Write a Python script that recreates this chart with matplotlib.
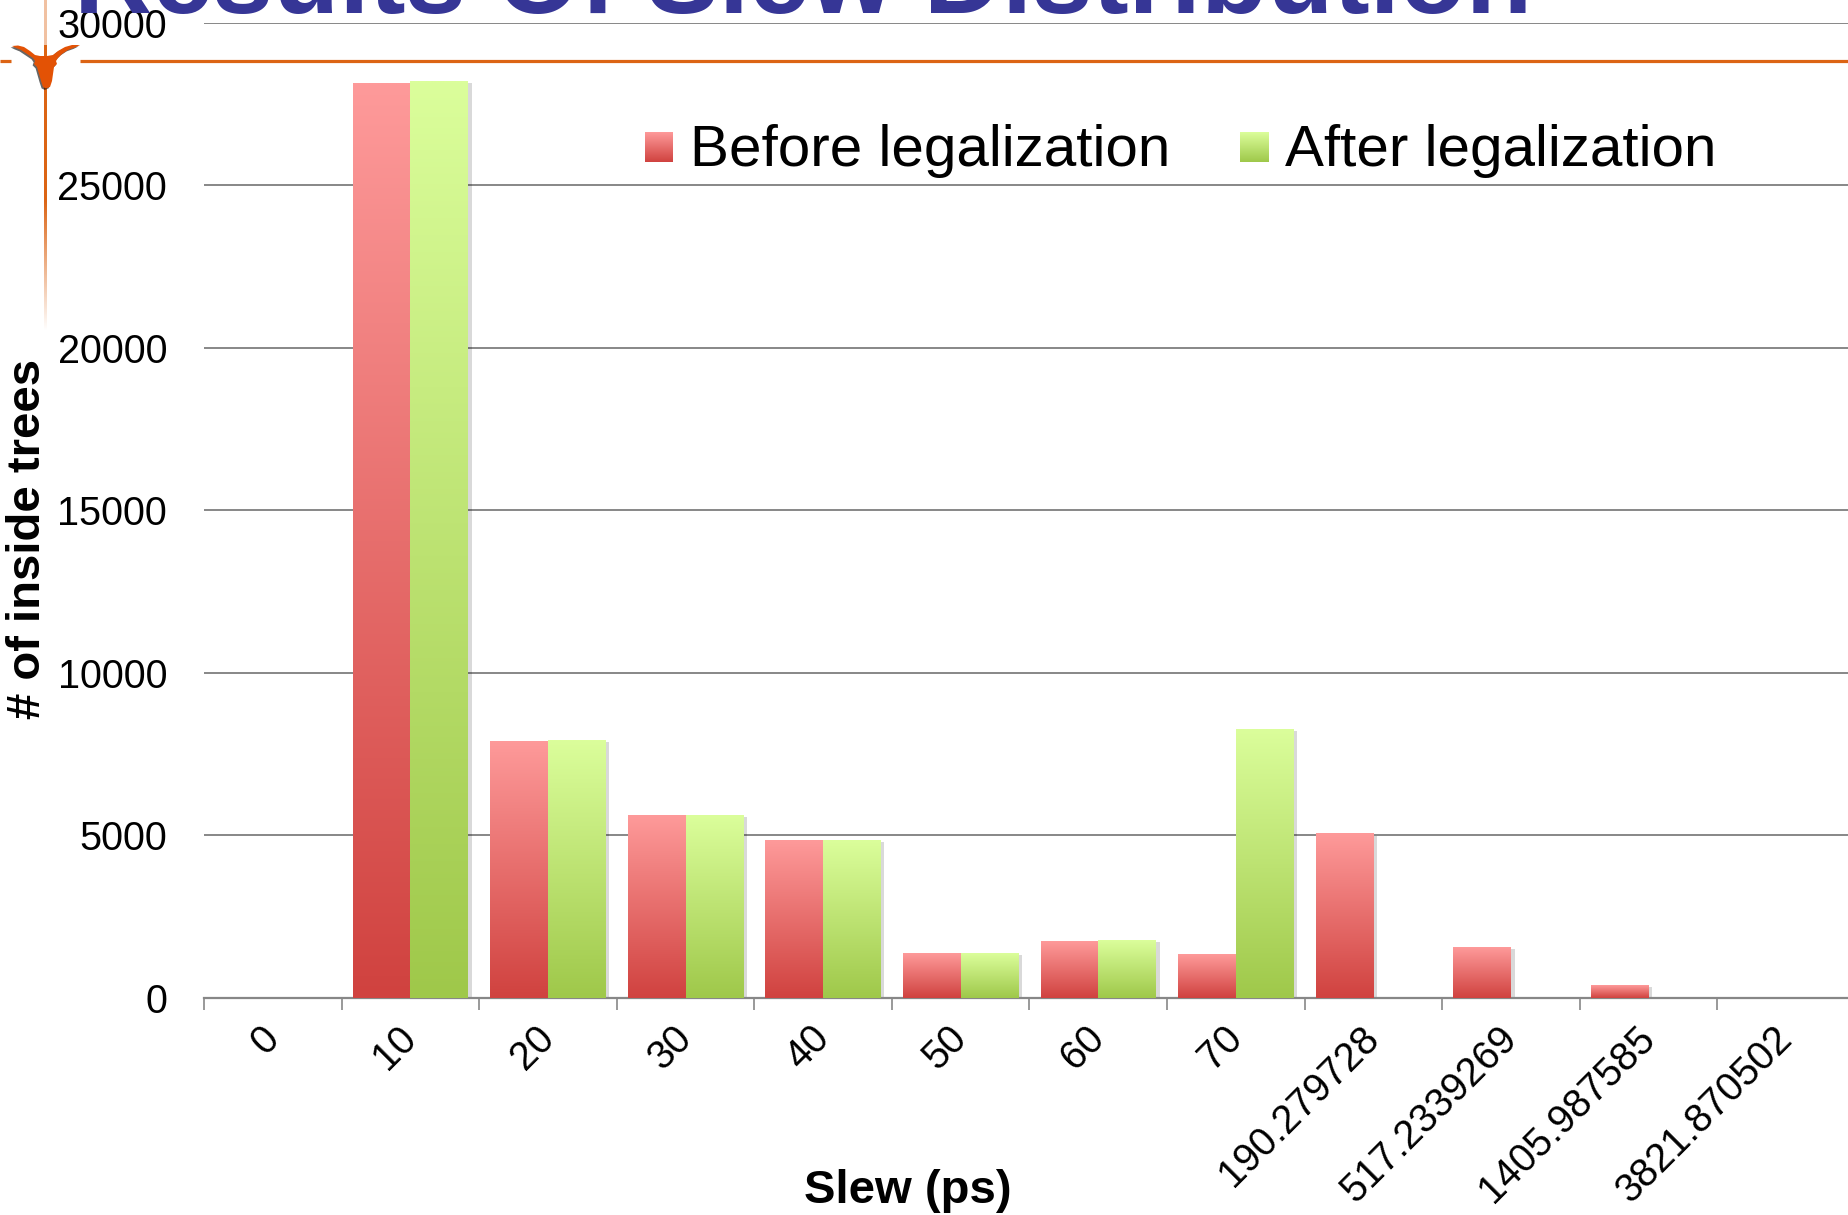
import numpy as np
import matplotlib
matplotlib.use('Agg')
from matplotlib import pyplot as plt
from matplotlib.patches import Polygon
import matplotlib.patheffects as pe
from matplotlib.colors import to_rgb

plt.rcParams['font.family'] = ['Liberation Sans', 'DejaVu Sans']

#data
slew_bins = ['0', '10', '20', '30', '40', '50', '60', '70',
             '190.279728', '517.2339269', '1405.987585', '3821.870502']
before = [0, 28150, 7910, 5620, 4860, 1380, 1740, 1350, 5050, 1550, 380, 0]
after = [0, 28200, 7920, 5620, 4860, 1380, 1760, 8270, 0, 0, 0, 0]
series_names = ['Before legalization', 'After legalization']
yticks = [0, 5000, 10000, 15000, 20000, 25000, 30000]

#colours (bottom, top of each bar gradient)
red_grad = ('#D0423F', '#FE9A9A')
green_grad = ('#9FC84A', '#DBFE9B')
grid_grey = '#878787'
ut_orange = '#DC6414'

W, H = 1849, 1215
fig = plt.figure(figsize=(W / 100, H / 100), dpi=100)


def gradient(bottom, top, n=256):
    b = np.array(to_rgb(bottom))
    t = np.array(to_rgb(top))
    s = np.linspace(0, 1, n)[:, None, None]
    return b + (t - b) * s


def fill_gradient(ax, rect, cols):
    x0, y0 = rect.get_xy()
    w, h = rect.get_width(), rect.get_height()
    if h <= 0:
        return
    im = ax.imshow(gradient(*cols), extent=(x0, x0 + w, y0, y0 + h), origin='lower',
                   aspect='auto', interpolation='bilinear', zorder=3)
    im.set_clip_path(rect)


#main chart area (right end runs slightly past the slide edge)
ax_left, ax_right = 204, 1855
ax_top, ax_bottom = 22.6, 997.6
ax = fig.add_axes([ax_left / W, 1 - ax_bottom / H, (ax_right - ax_left) / W, (ax_bottom - ax_top) / H])
ax.patch.set_alpha(0)

n = len(slew_bins)
centers = np.arange(n) + 0.5
bw = 0.42
shadow = [pe.SimplePatchShadow(offset=(2.5, -1.5), shadow_rgbFace='k', alpha=0.15), pe.Normal()]
b1 = ax.bar(centers - bw / 2, before, bw, color=red_grad[0], linewidth=0, zorder=2, path_effects=shadow)
b2 = ax.bar(centers + bw / 2, after, bw, color=green_grad[0], linewidth=0, zorder=2, path_effects=shadow)
for r in b1:
    fill_gradient(ax, r, red_grad)
for r in b2:
    fill_gradient(ax, r, green_grad)

ax.set_xlim(0, n)
ax.set_ylim(0, 30000)
ax.set_yticks(yticks)
ax.set_yticklabels([str(v) for v in yticks])
ax.set_xticks(centers)
ax.set_xticklabels(slew_bins, rotation=45, ha='right', va='center', rotation_mode='anchor')
ax.set_xticks(np.arange(n + 1), minor=True)
ax.tick_params(axis='y', length=0, pad=26.5, labelsize=28.5)
ax.tick_params(axis='x', which='major', length=0, pad=25, labelsize=28.5)
ax.tick_params(axis='x', which='minor', length=8.5, width=1.2, color=grid_grey)
for s in ['top', 'right', 'left']:
    ax.spines[s].set_visible(False)
ax.spines['bottom'].set_color(grid_grey)
ax.spines['bottom'].set_linewidth(1.6)
ax.set_axisbelow(True)
ax.yaxis.grid(True, color=grid_grey, linewidth=1.4)

#overlay in slide pixels: title, legend, axis titles, orange rules and logo
ov = fig.add_axes([0, 0, 1, 1], zorder=10)
ov.patch.set_alpha(0)
ov.axis('off')

ov.text(74, 13, 'Results Of Slew Distribution', fontsize=78, fontweight='bold',
        color='#363696', ha='left', va='baseline')

ov.imshow(gradient(*red_grad), extent=(645, 673, 162, 132), origin='lower', aspect='auto')
ov.text(690, 166, series_names[0], fontsize=42, ha='left', va='baseline')
ov.imshow(gradient(*green_grad), extent=(1240, 1269, 162, 132), origin='lower', aspect='auto')
ov.text(1285, 166, series_names[1], fontsize=42, ha='left', va='baseline')

ov.text(28, 539, '# of inside trees', fontsize=34, fontweight='bold', rotation=90,
        ha='center', va='center')
ov.text(908, 1203, 'Slew (ps)', fontsize=34, fontweight='bold', ha='center', va='baseline')

#orange rules
ov.plot([0, 11], [61, 61], color=ut_orange, lw=2.3, solid_capstyle='butt')
ov.plot([80, W], [61, 61], color=ut_orange, lw=2.3, solid_capstyle='butt')
ys = np.arange(0, 330)
alpha = np.where(ys < 45, 0.4, 1.0)
alpha = np.where(ys > 200, np.clip((330 - ys) / 130, 0, 1), alpha)
vline = np.zeros((len(ys), 1, 4))
vline[:, 0, :3] = to_rgb(ut_orange)
vline[:, 0, 3] = alpha
ov.imshow(vline, extent=(43.5, 46.5, 330, 0), origin='upper', aspect='auto', interpolation='bilinear')

#longhorn
horn = [(12, 46), (18, 45.5), (24, 47), (30, 51), (35, 55), (40, 56), (47, 56), (53, 55),
        (58, 51), (65, 47), (72, 45), (80, 45), (75, 47.5), (68, 50), (62, 54), (58, 58),
        (56, 61), (57, 64), (54, 67), (53, 74), (52, 81), (50, 87), (46, 88.5), (43, 87),
        (41, 81), (39, 74), (37, 67), (34, 64), (35, 61), (33, 58), (27, 54), (21, 50),
        (16, 48)]
ov.add_patch(Polygon(horn, closed=True, fc='#E35205', ec='none',
                     path_effects=[pe.SimplePatchShadow(offset=(-1.0, -1.0), shadow_rgbFace='k', alpha=0.6),
                                   pe.Normal()]))

ov.set_xlim(0, W)
ov.set_ylim(H, 0)

fig.savefig('out.png', dpi=100)
